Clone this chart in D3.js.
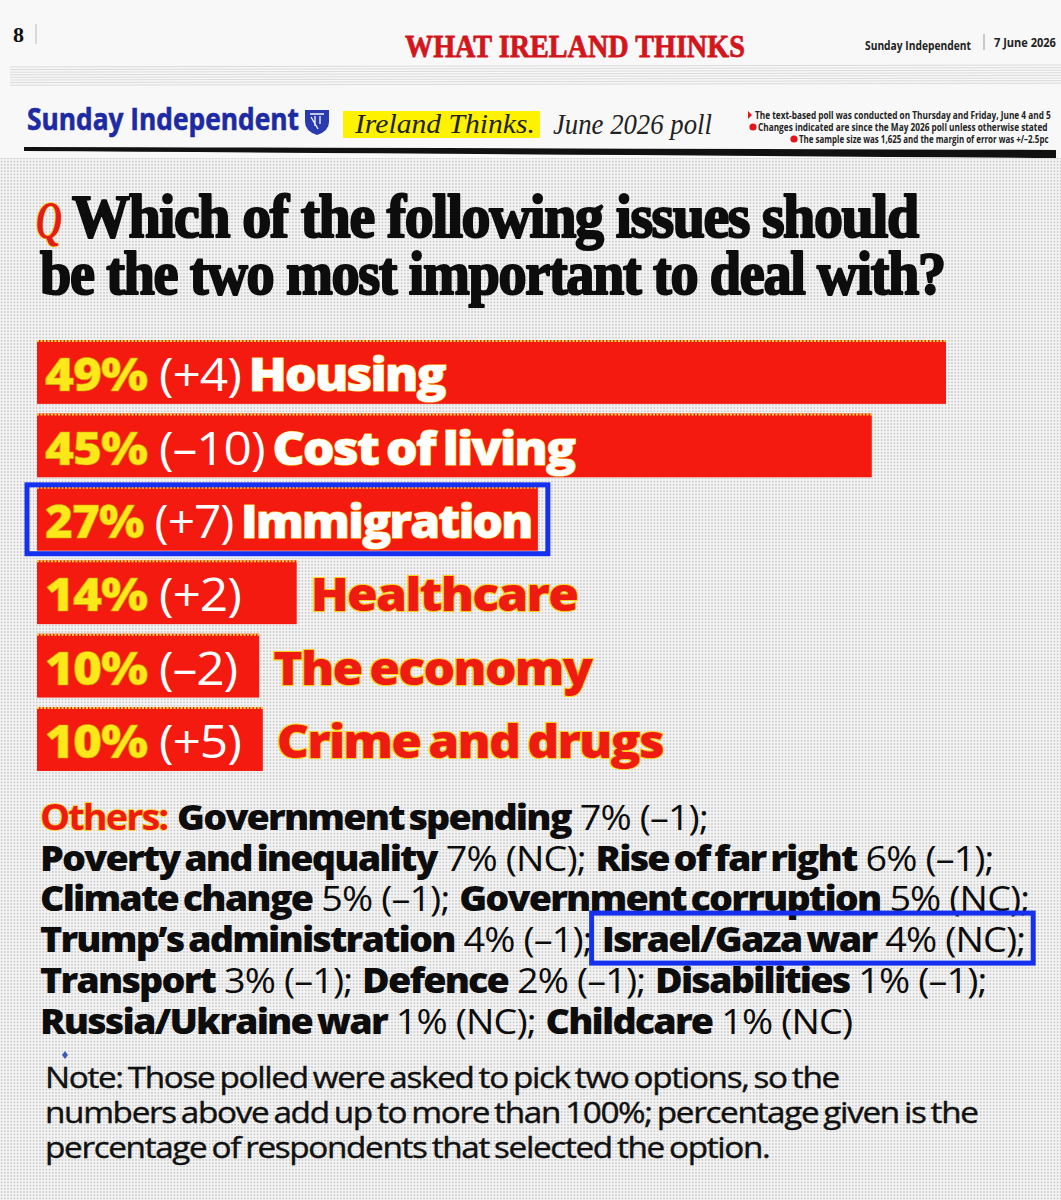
<!DOCTYPE html>
<html><head><meta charset="utf-8">
<script src="https://cdn.jsdelivr.net/npm/d3@7"></script>
<style>body{margin:0;background:#fff}svg{display:block}text{white-space:pre}</style>
</head><body>
<script>
// ---------- DATA ----------
const categories = ["Housing", "Cost of living", "Immigration", "Healthcare", "The economy", "Crime and drugs"];
const values = [49, 45, 27, 14, 10, 10];
const changes = ["+4", "\u201310", "+7", "+2", "\u20132", "+5"];
const highlightCategory = "Immigration";

const otherIssues = ["Government spending", "Poverty and inequality", "Rise of far right", "Climate change",
  "Government corruption", "Trump\u2019s administration", "Israel/Gaza war", "Transport", "Defence",
  "Disabilities", "Russia/Ukraine war", "Childcare"];
const otherValues = [7, 7, 6, 5, 5, 4, 4, 3, 2, 1, 1, 1];
const otherChanges = ["\u20131", "NC", "\u20131", "\u20131", "NC", "\u20131", "NC", "\u20131", "\u20131", "\u20131", "NC", "NC"];
const otherLineStarts = [0, 1, 3, 5, 7, 10];
const highlightOther = "Israel/Gaza war";

const pollNotes = [
  "The text-based poll was conducted on Thursday and Friday, June 4 and 5",
  "Changes indicated are since the May 2026 poll unless otherwise stated",
  "The sample size was 1,625 and the margin of error was +/\u20132.5pc"
];
const noteLines = [
  "Note: Those polled were asked to pick two options, so the",
  "numbers above add up to more than 100%; percentage given is the",
  "percentage of respondents that selected the option."
];
const questionLines = ["Which of the following issues should", "be the two most important to deal with?"];

// ---------- SETUP ----------
const W = 1061, H = 1200;
const svg = d3.select("body").append("svg").attr("width", W).attr("height", H);
const defs = svg.append("defs");
const pat = defs.append("pattern").attr("id", "dots").attr("width", 3.2).attr("height", 3.2)
  .attr("patternUnits", "userSpaceOnUse");
pat.append("rect").attr("width", 3.2).attr("height", 3.2).attr("fill", "#f3f3f3");
pat.append("circle").attr("cx", 1.6).attr("cy", 1.6).attr("r", 0.62).attr("fill", "#8f8f8f");

svg.append("rect").attr("width", W).attr("height", H).attr("fill", "#f8f8f8");
svg.append("rect").attr("y", 158).attr("width", W).attr("height", H - 158).attr("fill", "url(#dots)");

const SANS = "'Open Sans', 'Liberation Sans', sans-serif";
const NARROW = "'Liberation Sans Narrow', 'Open Sans', sans-serif";
const SERIF = "'Liberation Serif', 'DejaVu Serif', serif";

function fitted(parent, o) {
  const g = parent.append("g");
  const t = g.append("text")
    .attr("font-family", o.font).attr("font-size", o.size)
    .attr("font-weight", o.weight || "normal").attr("font-style", o.style || "normal")
    .attr("fill", o.fill || "#111").text(o.text);
  if (o.ls) t.attr("letter-spacing", o.ls);
  if (o.stroke) t.attr("stroke", o.stroke).attr("stroke-width", o.sw || 1).attr("paint-order", "stroke")
    .attr("stroke-linejoin", "round");
  const len = t.node().getComputedTextLength();
  const k = o.w / len;
  const x0 = o.anchor === "end" ? o.x - o.w : o.x;
  g.attr("transform", `translate(${x0},${o.y}) scale(${k},1)`);
  return t;
}

// ---------- MASTHEAD ----------
svg.append("text").attr("x", 13).attr("y", 42).attr("font-family", SERIF).attr("font-weight", "bold")
  .attr("font-size", 22).attr("fill", "#111").text("8");
svg.append("line").attr("x1", 36).attr("x2", 36).attr("y1", 24).attr("y2", 44).attr("stroke", "#bbb");
fitted(svg, {x: 405, y: 57, w: 340, text: "WHAT IRELAND THINKS", font: SERIF, size: 32, weight: "bold",
  fill: "#d3161c", stroke: "#d3161c", sw: 0.8});
fitted(svg, {x: 865, y: 50, w: 106, text: "Sunday Independent", font: NARROW, size: 12, weight: "bold", fill: "#222"});
svg.append("line").attr("x1", 984).attr("x2", 984).attr("y1", 34).attr("y2", 50).attr("stroke", "#999");
fitted(svg, {x: 994, y: 47, w: 62, text: "7 June 2026", font: NARROW, size: 12, weight: "bold", fill: "#222"});

// faint rule band
d3.range(8).forEach(i => {
  svg.append("line").attr("x1", 10).attr("x2", 1061).attr("y1", 67 + i * 2.6).attr("y2", 67 + i * 2.6 - 2)
    .attr("stroke", "#d2d2d2").attr("stroke-width", 0.8);
});

// brand bar
fitted(svg, {x: 27, y: 130, w: 272, text: "Sunday Independent", font: NARROW, size: 30, weight: "bold",
  fill: "#1d2aa3", stroke: "#1d2aa3", sw: 0.6});
svg.append("path").attr("d", "M305,110 L329,110 L329,122 Q329,131 317,135 Q305,131 305,122 Z")
  .attr("fill", "#2a3bb0");
svg.append("path").attr("d", "M310,114 L324,114 M311,117 L318,129 M315,116 L315,126 M320,116 L320,124")
  .attr("stroke", "#f8f8f8").attr("stroke-width", 1.3);
svg.append("rect").attr("x", 343).attr("y", 111).attr("width", 197).attr("height", 27).attr("fill", "#fff200");
fitted(svg, {x: 355, y: 133, w: 180, text: "Ireland Thinks.", font: SERIF, size: 27, style: "italic", fill: "#222"});
fitted(svg, {x: 553, y: 134, w: 159, text: "June 2026 poll", font: SERIF, size: 29, style: "italic", fill: "#222"});

const noteGeom = [{x: 1051, y: 119, w: 296}, {x: 1048, y: 131, w: 290}, {x: 1049, y: 143, w: 250}];
pollNotes.forEach((t, i) => {
  const g = noteGeom[i];
  fitted(svg, {x: g.x, y: g.y, w: g.w, anchor: "end", text: t, font: NARROW, size: 11, weight: "bold", fill: "#222"});
  const bx = g.x - g.w - 5;
  if (i === 0) svg.append("path").attr("d", `M${bx - 2},${g.y - 8} L${bx + 2},${g.y - 4} L${bx - 2},${g.y}Z`).attr("fill", "#e3141c");
  else svg.append("circle").attr("cx", bx).attr("cy", g.y - 4).attr("r", 3.6).attr("fill", "#e3141c");
});
svg.append("path").attr("d", "M24,147 Q500,148 1056,150 L1056,158 Q500,154 24,151 Z").attr("fill", "#111");

// ---------- QUESTION ----------
fitted(svg, {x: 36, y: 238, w: 26, text: "Q", font: SERIF, size: 52, weight: "bold", style: "italic",
  fill: "#e31b1b", stroke: "#ffc800", sw: 1.6});
fitted(svg, {x: 72, y: 237, w: 846, text: questionLines[0], font: SERIF, size: 62, weight: "bold",
  fill: "#0d0d0d", stroke: "#0d0d0d", sw: 2.2, ls: -1.5});
fitted(svg, {x: 40, y: 294, w: 905, text: questionLines[1], font: SERIF, size: 62, weight: "bold",
  fill: "#0d0d0d", stroke: "#0d0d0d", sw: 2.2, ls: -1.5});

// ---------- BARS ----------
const X0 = 37;
const x = d3.scaleLinear().domain([0, d3.max(values)]).range([0, 909]);
const y = d3.scaleBand().domain(categories).range([340, 771]).paddingInner(0.13);
const BAR_RED = "#f51a10";
const LABEL_SIZE = 46;

const barG = svg.append("g");
const labG = svg.append("g");

function buildLabel(parent, i, withName) {
  const t = parent.append("text").attr("font-family", SANS).attr("font-size", LABEL_SIZE);
  t.append("tspan").attr("font-weight", 800).attr("fill", "#ffe81a").attr("letter-spacing", -1)
    .attr("stroke", "#c9a400").attr("stroke-width", 0.6).text(values[i] + "%");
  t.append("tspan").attr("font-weight", 400).attr("fill", "#fff").attr("letter-spacing", -1).text(" (" + changes[i] + ")");
  if (withName) t.append("tspan").attr("font-weight", 800).attr("fill", "#fff").attr("letter-spacing", -1.6)
    .attr("word-spacing", -3)
    .attr("stroke", "#ffdf3a").attr("stroke-width", 1.2).attr("paint-order", "stroke").text(" " + categories[i]);
  return t;
}
// uniform horizontal compression set from the longest bar's label
const probe = buildLabel(svg, 0, true);
const K = 400 / probe.node().getComputedTextLength();
probe.remove();

categories.forEach((c, i) => {
  const yy = y(c), bh = y.bandwidth();
  const base = yy + bh * 0.8;
  const g = labG.append("g");
  const full = buildLabel(g, i, true);
  const fullW = full.node().getComputedTextLength() * K;
  const room = x(values[i]) - 14;
  const inside = fullW <= room * 1.2;
  let w, k = K;
  if (inside) {
    w = x(values[i]);
    if (fullW > room) k = K * room / fullW;
  } else {
    full.remove();
    const short = buildLabel(g, i, false);
    const sw = short.node().getComputedTextLength() * K;
    w = Math.max(x(values[i]), 8 + sw + 22);
    const og = labG.append("g").attr("transform", `translate(${X0 + w + 14},${base}) scale(${K},1)`);
    og.append("text").attr("font-family", SANS).attr("font-size", LABEL_SIZE).attr("font-weight", 800)
      .attr("letter-spacing", -1.6).attr("word-spacing", -3)
      .attr("fill", "#ee1b12").attr("stroke", "#ffd21a").attr("stroke-width", 2.2)
      .attr("paint-order", "stroke").text(c);
  }
  g.attr("transform", `translate(${X0 + 8},${base}) scale(${k},1)`);
  barG.append("rect").attr("x", X0).attr("y", yy).attr("width", w).attr("height", bh).attr("fill", BAR_RED);
  barG.append("line").attr("x1", X0).attr("x2", X0 + w).attr("y1", yy + 1).attr("y2", yy + 1)
    .attr("stroke", "#ffd83a").attr("stroke-width", 2).attr("stroke-dasharray", "2,1.5");
  if (c === highlightCategory) {
    svg.append("rect").attr("x", X0 - 10).attr("y", yy - 2).attr("width", w + 20).attr("height", bh + 5)
      .attr("fill", "none").attr("stroke", "#1530ee").attr("stroke-width", 5);
  }
});

// ---------- OTHERS ----------
const OTH_SIZE = 35, OTH_X = 40, OTH_Y0 = 830, OTH_DY = 40.7;
function boldSpan(t, txt) {
  return t.append("tspan").attr("font-weight", 800).attr("letter-spacing", -1.7).attr("word-spacing", -3).text(txt);
}
function buildOtherLine(parent, li) {
  const t = parent.append("text").attr("font-family", SANS).attr("font-size", OTH_SIZE).attr("fill", "#0d0d0d");
  const start = otherLineStarts[li];
  const end = li + 1 < otherLineStarts.length ? otherLineStarts[li + 1] : otherIssues.length;
  let s = "", hl = null;
  if (li === 0) {
    boldSpan(t, "Others:").attr("fill", "#ee1b12").attr("stroke", "#ffd21a")
      .attr("stroke-width", 1.6).attr("paint-order", "stroke").attr("font-weight", 700);
    t.append("tspan").text(" ");
    s += "Others: ";
  }
  for (let i = start; i < end; i++) {
    if (i > start) { t.append("tspan").text(" "); s += " "; }
    const a = s.length;
    boldSpan(t, otherIssues[i]);
    s += otherIssues[i];
    const vtxt = " " + otherValues[i] + "% (" + otherChanges[i] + ")" + (i < otherIssues.length - 1 ? ";" : "");
    t.append("tspan").attr("font-weight", 400).attr("letter-spacing", -0.8).text(vtxt);
    s += vtxt;
    if (otherIssues[i] === highlightOther) hl = [a, s.length - 1];
  }
  return {t, hl};
}
// one shared compression so the widest line fits the column
const widest = d3.max(otherLineStarts, (_, li) => {
  const p = buildOtherLine(svg, li).t;
  const len = p.node().getComputedTextLength();
  p.remove();
  return len;
});
const KO = 990 / widest;
otherLineStarts.forEach((_, li) => {
  const yy = OTH_Y0 + li * OTH_DY;
  const g = svg.append("g").attr("transform", `translate(${OTH_X},${yy}) scale(${KO},1)`);
  const {t, hl} = buildOtherLine(g, li);
  if (hl) {
    const n = t.node();
    const xa = OTH_X + KO * n.getStartPositionOfChar(hl[0]).x;
    const xb = OTH_X + KO * n.getEndPositionOfChar(hl[1]).x;
    svg.append("rect").attr("x", xa - 10).attr("y", yy - 39).attr("width", xb - xa + 18).attr("height", 50)
      .attr("fill", "none").attr("stroke", "#1530ee").attr("stroke-width", 5);
  }
});

// ---------- NOTE ----------
const NOTE_SIZE = 30;
const nprobe = svg.append("text").attr("font-family", SANS).attr("font-size", NOTE_SIZE)
  .attr("letter-spacing", -1.2).attr("word-spacing", -2).text(noteLines[1]);
const KN = 933 / nprobe.node().getComputedTextLength();
nprobe.remove();
noteLines.forEach((l, i) => {
  svg.append("g").attr("transform", `translate(45,${1088 + i * 35}) scale(${KN},1)`)
    .append("text").attr("font-family", SANS).attr("font-size", NOTE_SIZE).attr("fill", "#111")
    .attr("stroke", "#111").attr("stroke-width", 0.4)
    .attr("letter-spacing", -1.2).attr("word-spacing", -2).text(l);
});
svg.append("path").attr("d", "M65,1051 L68,1055 L65,1059 L62,1055Z").attr("fill", "#3a5bb0");
</script>
</body></html>
